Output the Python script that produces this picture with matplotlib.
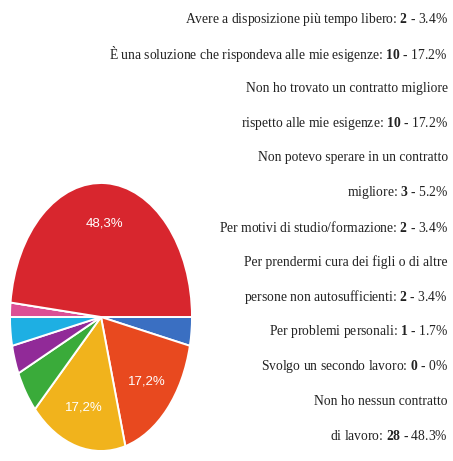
import matplotlib
matplotlib.use("Agg")
import matplotlib.pyplot as plt
import numpy as np

# ---- data ----
categories = [
    "Avere a disposizione più tempo libero",
    "È una soluzione che rispondeva alle mie esigenze",
    "Non ho trovato un contratto migliore rispetto alle mie esigenze",
    "Non potevo sperare in un contratto migliore",
    "Per motivi di studio/formazione",
    "Per prendermi cura dei figli o di altre persone non autosufficienti",
    "Per problemi personali",
    "Svolgo un secondo lavoro",
    "Non ho nessun contratto di lavoro",
]
counts = [2, 10, 10, 3, 2, 2, 1, 0, 28]
pct_text = ["3.4%", "17.2%", "17.2%", "5.2%", "3.4%", "3.4%", "1.7%", "0%", "48.3%"]
colors = ["#3a6fc2", "#e8491f", "#f1b31c", "#3aab3a", "#912a98",
          "#1eafe3", "#dc4f95", "#b0b0b0", "#d8262e"]

# legend lines as shown (wrapped), each: (prefix, bold number or None, suffix)
legend_lines = [
    ("Avere a disposizione più tempo libero: ", "2", " - 3.4%"),
    ("È una soluzione che rispondeva alle mie esigenze: ", "10", " - 17.2%"),
    ("Non ho trovato un contratto migliore", None, ""),
    ("rispetto alle mie esigenze: ", "10", " - 17.2%"),
    ("Non potevo sperare in un contratto", None, ""),
    ("migliore: ", "3", " - 5.2%"),
    ("Per motivi di studio/formazione: ", "2", " - 3.4%"),
    ("Per prendermi cura dei figli o di altre", None, ""),
    ("persone non autosufficienti: ", "2", " - 3.4%"),
    ("Per problemi personali: ", "1", " - 1.7%"),
    ("Svolgo un secondo lavoro: ", "0", " - 0%"),
    ("Non ho nessun contratto", None, ""),
    ("di lavoro: ", "28", " - 48.3%"),
]

plt.rcParams["mathtext.fontset"] = "custom"
plt.rcParams["mathtext.rm"] = "Liberation Serif"
plt.rcParams["mathtext.bf"] = "Liberation Serif:bold"

W, H = 453, 461
fig = plt.figure(figsize=(W / 100, H / 100), dpi=100)
fig.patch.set_facecolor("white")

# pie axes (elliptical pie)
cx, cy, rx, ry = 101, 317, 91, 134
ax = fig.add_axes([(cx - rx) / W, (H - (cy + ry)) / H, 2 * rx / W, 2 * ry / H])


def fmt(p):
    return (f"{p:.1f}%".replace(".", ",")) if p > 10 else ""


wedges, texts, autotexts = ax.pie(
    counts, colors=colors, startangle=0, counterclock=False,
    autopct=fmt, pctdistance=0.7,
    wedgeprops=dict(edgecolor="white", linewidth=1.4),
    textprops=dict(color="white", fontsize=9.5, family="Liberation Sans"),
)
ax.set_xlim(-1.0, 1.0)
ax.set_ylim(-1.0, 1.0)
ax.set_aspect("auto")
ax.axis("off")

# legend text, right aligned
x_right = 448 / W
y_top, step = 19, 34.75
for i, (pre, num, suf) in enumerate(legend_lines):
    y = 1 - (y_top + i * step) / H
    if num is None:
        s = pre
    else:
        s = pre + r"$\mathbf{" + num + "}$" + suf
    fig.text(x_right, y, s, ha="right", va="center", fontsize=9.8,
             family="Liberation Serif", color="#222222")

fig.savefig("out.png", dpi=100, facecolor="white")
